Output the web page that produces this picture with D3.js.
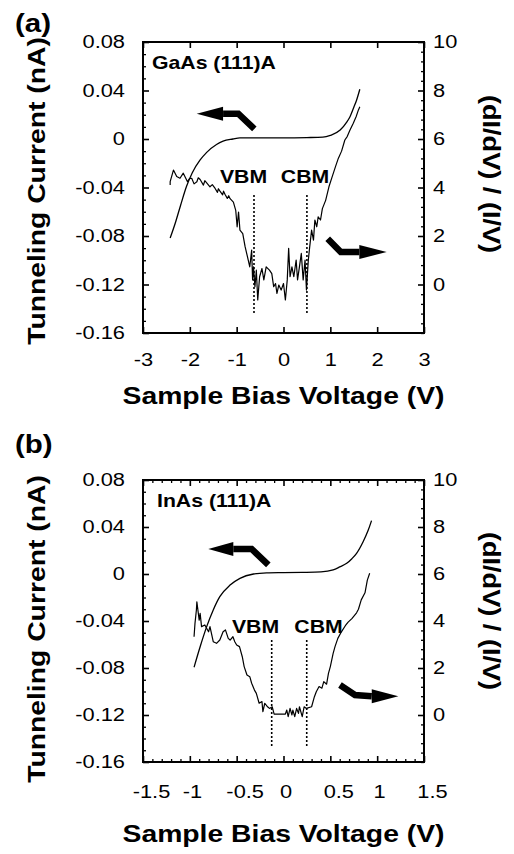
<!DOCTYPE html>
<html><head><meta charset="utf-8">
<script src="https://cdn.jsdelivr.net/npm/d3@7"></script>
<style>
body{margin:0;background:#fff;}
svg{display:block;}
text{font-family:"Liberation Sans",Arial,Helvetica,sans-serif;fill:#000;}
</style></head><body>
<svg id="chart" width="514" height="854"></svg>
<script>
// ---------- data ----------
const panelLabels = ["(a)", "(b)"];
const sampleNames = ["GaAs (111)A", "InAs (111)A"];
const xTitle = "Sample Bias Voltage (V)";
const yLeftTitle = "Tunneling Current (nA)";
const yRightTitle = "(dI/dV) / (I/V)";

const xTicksA = [-3, -2, -1, 0, 1, 2, 3];
const xTickLabelsA = ["-3", "-2", "-1", "0", "1", "2", "3"];
const xTicksB = [-1.5, -1, -0.5, 0, 0.5, 1, 1.5];
const xTickLabelsB = ["-1.5", "-1", "-0.5", "0", "0.5", "1", "1.5"];
const yLeftTicks = [0.08, 0.04, 0, -0.04, -0.08, -0.12, -0.16];
const yLeftTickLabels = ["0.08", "0.04", "0", "-0.04", "-0.08", "-0.12", "-0.16"];
const yRightTicks = [10, 8, 6, 4, 2, 0];
const yRightTickLabels = ["10", "8", "6", "4", "2", "0"];

// Panel (a) GaAs: tunneling current
const currentA_V = [-2.42,-2.3,-2.2,-2.07,-1.95,-1.78,-1.64,-1.43,-1.29,-1.08,-0.93,-0.5,0.0,0.5,0.84,1.0,1.21,1.35,1.42,1.5,1.56,1.63];
const currentA_I = [-0.0817,-0.068,-0.055,-0.039,-0.028,-0.0173,-0.011,-0.0045,-0.0018,0.0,0.001,0.001,0.001,0.0012,0.0015,0.003,0.0074,0.014,0.0184,0.026,0.032,0.041];
// Panel (a) GaAs: normalized conductance
const ratioA_V = [-2.42,-2.42,-2.35,-2.28,-2.21,-2.14,-2.05,-2.01,-1.96,-1.91,-1.85,-1.82,-1.78,-1.71,-1.68,-1.64,-1.57,-1.52,-1.46,-1.41,-1.39,-1.36,-1.30,-1.28,-1.25,-1.20,-1.17,-1.14,-1.07,-1.02,-0.99,-0.96,-0.93,-0.87,-0.82,-0.77,-0.72,-0.68,-0.66,-0.64,-0.61,-0.58,-0.55,-0.51,-0.46,-0.42,-0.37,-0.30,-0.25,-0.21,-0.17,-0.14,-0.10,-0.05,0.00,0.04,0.08,0.11,0.14,0.18,0.22,0.27,0.30,0.34,0.38,0.42,0.46,0.49,0.53,0.56,0.60,0.64,0.67,0.71,0.74,0.79,0.83,0.90,0.97,1.04,1.11,1.17,1.24,1.31,1.36,1.42,1.49,1.55,1.60,1.63];
const ratioA_R = [4.10,4.24,4.72,4.45,4.38,4.59,4.24,4.36,4.38,4.15,4.24,4.40,4.33,4.10,4.28,4.19,4.03,4.12,3.96,3.80,3.95,3.86,3.70,3.85,3.72,3.55,3.66,3.54,3.40,3.06,2.38,2.99,2.24,2.10,1.56,1.15,0.73,1.42,0.19,0.73,-0.09,0.59,-0.64,0.32,0.66,0.19,0.73,0.59,0.45,-0.09,0.04,-0.37,-0.02,-0.23,0.04,-0.64,0.19,1.49,0.32,0.73,0.32,1.01,0.19,0.73,1.28,0.19,1.01,-0.23,1.01,1.56,2.24,1.83,2.66,2.38,2.79,2.66,3.13,3.47,4.03,4.45,4.86,5.2,5.5,5.96,6.1,6.37,6.65,6.92,7.2,7.33];

// Panel (b) InAs: tunneling current
const currentB_V = [-0.955,-0.89,-0.82,-0.75,-0.68,-0.57,-0.465,-0.32,-0.18,0.0,0.2,0.40,0.53,0.60,0.675,0.73,0.78,0.85,0.905,0.94];
const currentB_I = [-0.0794,-0.0619,-0.0448,-0.0306,-0.0193,-0.0094,-0.0037,0.0,0.001,0.0012,0.0014,0.0018,0.0035,0.006,0.0091,0.013,0.0176,0.0275,0.0374,0.0454];
// Panel (b) InAs: normalized conductance
const ratioB_V = [-0.955,-0.945,-0.93,-0.925,-0.90,-0.89,-0.875,-0.84,-0.80,-0.785,-0.75,-0.715,-0.68,-0.645,-0.62,-0.59,-0.57,-0.54,-0.52,-0.50,-0.47,-0.44,-0.42,-0.39,-0.36,-0.34,-0.31,-0.29,-0.26,-0.23,-0.22,-0.20,-0.17,-0.15,-0.12,-0.10,0.02,0.035,0.05,0.07,0.09,0.10,0.12,0.14,0.16,0.17,0.20,0.22,0.245,0.30,0.33,0.35,0.38,0.41,0.43,0.46,0.48,0.50,0.53,0.55,0.58,0.62,0.66,0.69,0.73,0.78,0.80,0.83,0.87,0.895,0.92];
const ratioB_R = [3.33,3.90,4.47,4.82,4.04,4.33,3.76,3.83,3.54,3.76,3.12,3.05,3.19,3.54,3.62,3.26,3.19,3.33,3.12,2.98,2.91,2.48,2.06,1.70,1.63,1.35,1.06,0.92,0.50,0.57,0.14,0.50,0.35,0.28,0.35,0.04,0.04,0.21,-0.07,0.28,0.0,0.21,-0.07,0.28,0.07,0.35,-0.07,0.35,0.28,0.35,0.78,0.99,1.21,1.14,1.42,1.31,1.77,2.06,2.62,2.91,3.26,3.55,3.8,3.95,4.1,4.35,4.5,4.9,5.2,5.74,6.03];

// band edges (V) and dotted-line extent (right-axis units)
const bandEdgesA = [-0.63, 0.50];
const bandEdgesB = [-0.126, 0.248];
const bandLabels = ["VBM", "CBM"];
const bandLabelPosA = [[-0.854, 4.17], [0.459, 4.17]];
const bandLabelPosB = [[-0.299, 3.49], [0.374, 3.49]];
const dotRangeA = [3.69, -1.19];
const dotRangeB = [3.19, -1.35];

// arrows: shaft points (V, I) ending at head base, then tip
const arrowsA = [
  {shaft: [[-0.623, 0.0083], [-0.965, 0.0209], [-1.29, 0.0209]], tip: [-1.853, 0.0209]},
  {shaft: [[0.944, -0.0822], [1.222, -0.0932], [1.619, -0.0932]], tip: [2.203, -0.0932]}
];
const arrowsB = [
  {shaft: [[-0.162, 0.0077], [-0.340, 0.0213], [-0.536, 0.0213]], tip: [-0.803, 0.0213]},
  {shaft: [[0.603, -0.0945], [0.763, -0.1030], [0.942, -0.1040]], tip: [1.226, -0.1040]}
];

// ---------- drawing ----------
const SX = 1.18;
const svg = d3.select("#chart");
const zip = (a, b) => a.map((v, i) => [v, b[i]]);

const panels = [
  {label: panelLabels[0], name: sampleNames[0], top: 42, bottom: 333, xDom: [-3, 3],
   xTicks: xTicksA, xLabels: xTickLabelsA, xMinor: [], halfShift: 0,
   cur: zip(currentA_V, currentA_I), rat: zip(ratioA_V, ratioA_R),
   edges: bandEdgesA, labPos: bandLabelPosA, dots: dotRangeA, arrows: arrowsA,
   labelY: 32, nameXY: [152, 69], xPad: 20, xTitleY: 404, leftTitleY: 191, rightTitleY: 174},
  {label: panelLabels[1], name: sampleNames[1], top: 480, bottom: 762, xDom: [-1.5, 1.5],
   xTicks: xTicksB, xLabels: xTickLabelsB, xMinor: d3.range(-15, 16).map(d => d / 10), halfShift: 8,
   cur: zip(currentB_V, currentB_I), rat: zip(ratioB_V, ratioB_R),
   edges: bandEdgesB, labPos: bandLabelPosB, dots: dotRangeB, arrows: arrowsB,
   labelY: 453, nameXY: [157, 507], xPad: 23, xTitleY: 842, leftTitleY: 629, rightTitleY: 611}
];

const L = 143, R = 424;

function stretchTicks(g, shiftFn) {
  g.selectAll(".tick text").each(function () {
    const t = d3.select(this);
    const x = (+t.attr("x") || 0) + (shiftFn ? shiftFn(t.text()) : 0), y = +t.attr("y") || 0;
    t.attr("x", 0).attr("y", 0).attr("transform", `translate(${x},${y}) scale(${SX},1)`);
  });
}
function styleAxis(g, sw) {
  g.select(".domain").remove();
  g.selectAll(".tick line").attr("stroke", "#000").attr("stroke-width", sw);
  g.selectAll(".tick text").attr("fill", "#000");
}
function addText(str, x, y, size, weight, anchor, rot) {
  return svg.append("text").text(str)
    .attr("transform", `translate(${x},${y}) rotate(${rot || 0}) scale(${SX},1)`)
    .attr("font-size", size).attr("font-weight", weight).attr("text-anchor", anchor);
}

panels.forEach(p => {
  const x = d3.scaleLinear().domain(p.xDom).range([L, R]);
  const y = d3.scaleLinear().domain([-0.16, 0.08]).range([p.bottom, p.top]);
  const yR = d3.scaleLinear().domain([-2, 10]).range([p.bottom, p.top]);
  const fmt = (ticks, labels) => d => labels[ticks.findIndex(t => Math.abs(t - d) < 1e-9)];

  // minor ticks
  const leftMinor = d3.range(-16, 9).map(d => d / 100).filter(d => !yLeftTicks.some(t => Math.abs(t - d) < 1e-9));
  const rightMinor = d3.range(-5, 26).map(d => d * 0.4).filter(d => !yRightTicks.some(t => Math.abs(t - d) < 1e-9));
  const xMinor = p.xMinor.filter(d => !p.xTicks.some(t => Math.abs(t - d) < 1e-9));

  svg.append("g").attr("transform", `translate(${L},0)`)
    .call(d3.axisLeft(y).tickValues(leftMinor).tickSize(-3).tickFormat(""))
    .call(g => styleAxis(g, 1.3));
  svg.append("g").attr("transform", `translate(${R},0)`)
    .call(d3.axisRight(yR).tickValues(rightMinor).tickSize(-3).tickFormat(""))
    .call(g => styleAxis(g, 1.3));
  if (xMinor.length) {
    svg.append("g").attr("transform", `translate(0,${p.bottom})`)
      .call(d3.axisBottom(x).tickValues(xMinor).tickSize(-3).tickFormat(""))
      .call(g => styleAxis(g, 1.3));
    svg.append("g").attr("transform", `translate(0,${p.top})`)
      .call(d3.axisTop(x).tickValues(xMinor).tickSize(-3).tickFormat(""))
      .call(g => styleAxis(g, 1.3));
  }

  // major ticks + labels
  const gl = svg.append("g").attr("transform", `translate(${L},0)`)
    .call(d3.axisLeft(y).tickValues(yLeftTicks).tickSize(-6).tickPadding(18).tickFormat(fmt(yLeftTicks, yLeftTickLabels)))
    .attr("font-size", 18.5).attr("font-family", null);
  styleAxis(gl, 1.6); stretchTicks(gl);
  const gr = svg.append("g").attr("transform", `translate(${R},0)`)
    .call(d3.axisRight(yR).tickValues(yRightTicks).tickSize(-6).tickPadding(9).tickFormat(fmt(yRightTicks, yRightTickLabels)))
    .attr("font-size", 18.5).attr("font-family", null);
  styleAxis(gr, 1.6); stretchTicks(gr);
  const gb = svg.append("g").attr("transform", `translate(0,${p.bottom})`)
    .call(d3.axisBottom(x).tickValues(p.xTicks).tickSize(-6).tickPadding(p.xPad).tickFormat(fmt(p.xTicks, p.xLabels)))
    .attr("font-size", 18.5).attr("font-family", null);
  styleAxis(gb, 1.6); stretchTicks(gb, s => s.includes(".") ? p.halfShift : 2 * p.halfShift / 8);
  const gt = svg.append("g").attr("transform", `translate(0,${p.top})`)
    .call(d3.axisTop(x).tickValues(p.xTicks).tickSize(-6).tickFormat(""));
  styleAxis(gt, 1.6);

  // frame
  svg.append("rect").attr("x", L).attr("y", p.top).attr("width", R - L).attr("height", p.bottom - p.top)
    .attr("fill", "none").attr("stroke", "#000").attr("stroke-width", 2);

  // curves
  svg.append("path").datum(p.cur)
    .attr("d", d3.line().x(d => x(d[0])).y(d => y(d[1])).curve(d3.curveMonotoneX))
    .attr("fill", "none").attr("stroke", "#000").attr("stroke-width", 1.3);
  svg.append("path").datum(p.rat)
    .attr("d", d3.line().x(d => x(d[0])).y(d => yR(d[1])))
    .attr("fill", "none").attr("stroke", "#000").attr("stroke-width", 1.2).attr("stroke-linejoin", "round");

  // band edges
  p.edges.forEach((e, i) => {
    svg.append("line").attr("x1", x(e)).attr("x2", x(e)).attr("y1", yR(p.dots[0])).attr("y2", yR(p.dots[1]))
      .attr("stroke", "#000").attr("stroke-width", 1.6).attr("stroke-dasharray", "2,2");
    addText(bandLabels[i], x(p.labPos[i][0]), yR(p.labPos[i][1]), 18, "bold", "middle");
  });

  // arrows
  p.arrows.forEach(a => {
    const pts = a.shaft.map(d => [x(d[0]), y(d[1])]);
    const tip = [x(a.tip[0]), y(a.tip[1])];
    svg.append("path").attr("d", d3.line()(pts)).attr("fill", "none").attr("stroke", "#000")
      .attr("stroke-width", 6.5).attr("stroke-linejoin", "miter");
    const base = pts[pts.length - 1];
    const dx = tip[0] - base[0], dy = tip[1] - base[1], len = Math.hypot(dx, dy);
    const nx = -dy / len * 7, ny = dx / len * 7;
    svg.append("path").attr("d", d3.line()([[base[0] + nx, base[1] + ny], tip, [base[0] - nx, base[1] - ny]]) + "Z")
      .attr("fill", "#000");
  });

  // texts
  addText(p.label, 15, p.labelY, 25, "bold", "start");
  addText(p.name, p.nameXY[0], p.nameXY[1], 18, "bold", "start");
  addText(xTitle, (L + R) / 2, p.xTitleY, 24, "bold", "middle");
  addText(yLeftTitle, 45, p.leftTitleY, 24, "bold", "middle", -90);
  addText(yRightTitle, 483, p.rightTitleY, 23, "bold", "middle", 90);
});
</script>
</body></html>
